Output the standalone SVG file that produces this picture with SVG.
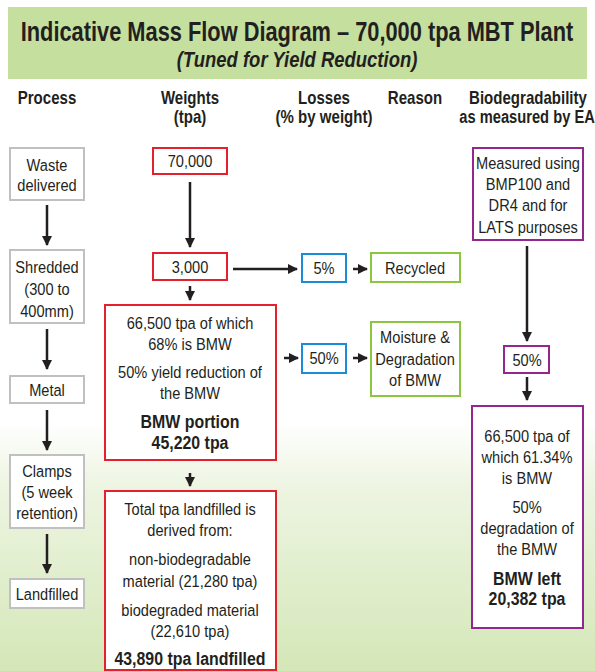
<svg xmlns="http://www.w3.org/2000/svg" width="595" height="671" viewBox="0 0 595 671">
<defs>
<linearGradient id="bg" x1="0" y1="0" x2="0" y2="1">
<stop offset="0" stop-color="#ffffff"/>
<stop offset="0.63" stop-color="#ffffff"/>
<stop offset="0.72" stop-color="#eef5e3"/>
<stop offset="1" stop-color="#d4e7b7"/>
</linearGradient>
<marker id="ah" viewBox="0 0 10 10" refX="9" refY="5" markerWidth="4" markerHeight="4" orient="auto" markerUnits="strokeWidth">
<path d="M0,0 L10,5 L0,10 z" fill="#231f20"/>
</marker>
<style>
text{font-family:"Liberation Sans",Arial,sans-serif;fill:#231f20;text-anchor:middle;font-size:17px}
.b{font-weight:bold;font-size:18.5px}
.h{font-weight:bold;font-size:17.5px}
.box{fill:#ffffff;stroke-width:2}
.g{stroke:#c0c0c0}
.r{stroke:#e3202c}
.bl{stroke:#1a8cd8}
.gr{stroke:#8cc63f}
.p{stroke:#92278f}
.c{stroke:#231f20;stroke-width:2.5;fill:none;marker-end:url(#ah)}
</style>
</defs>
<rect x="0" y="0" width="595" height="671" fill="url(#bg)"/>
<g id="title">
<rect x="8" y="7" width="579" height="72" fill="#c5df9e"/>
<text transform="translate(297,41) scale(0.808,1)" style="font-weight:bold;font-size:27px">Indicative Mass Flow Diagram – 70,000 tpa MBT Plant</text>
<text transform="translate(297,67) scale(0.84,1)" style="font-weight:bold;font-size:22px;font-style:italic">(Tuned for Yield Reduction)</text>
</g>
<g id="headers">
<text transform="translate(47,104) scale(0.86,1)" class="h">Process</text>
<text transform="translate(190,104) scale(0.86,1)" class="h">Weights</text>
<text transform="translate(190,123) scale(0.86,1)" class="h">(tpa)</text>
<text transform="translate(324,104) scale(0.86,1)" class="h">Losses</text>
<text transform="translate(324,123) scale(0.86,1)" class="h">(% by weight)</text>
<text transform="translate(415,104) scale(0.86,1)" class="h">Reason</text>
<text transform="translate(528,104) scale(0.86,1)" class="h">Biodegradability</text>
<text transform="translate(527,123) scale(0.84,1)" class="h">as measured by EA</text>
</g>
<g id="waste">
<rect x="10" y="148" width="74" height="52" class="box g"/>
<text transform="translate(47,171) scale(0.86,1)">Waste</text>
<text transform="translate(47,191) scale(0.86,1)">delivered</text>
</g>
<g id="shredded">
<rect x="10" y="250" width="74" height="73" class="box g"/>
<text transform="translate(47,273) scale(0.86,1)">Shredded</text>
<text transform="translate(47,295) scale(0.86,1)">(300 to</text>
<text transform="translate(47,317) scale(0.86,1)">400mm)</text>
</g>
<g id="metal">
<rect x="10" y="376" width="74" height="27" class="box g"/>
<text transform="translate(47,396) scale(0.86,1)">Metal</text>
</g>
<g id="clamps">
<rect x="10" y="455" width="74" height="73" class="box g"/>
<text transform="translate(47,477) scale(0.86,1)">Clamps</text>
<text transform="translate(47,498) scale(0.86,1)">(5 week</text>
<text transform="translate(47,519) scale(0.86,1)">retention)</text>
</g>
<g id="landfilled">
<rect x="10" y="579" width="74" height="29" class="box g"/>
<text transform="translate(47,600) scale(0.86,1)">Landfilled</text>
</g>
<g id="w70000">
<rect x="153" y="148" width="74" height="26" class="box r"/>
<text transform="translate(190,167) scale(0.86,1)">70,000</text>
</g>
<g id="w3000">
<rect x="153" y="253" width="74" height="27" class="box r"/>
<text transform="translate(190,273) scale(0.86,1)">3,000</text>
</g>
<g id="bmwportion">
<rect x="105" y="305" width="171" height="155" class="box r"/>
<text transform="translate(190,329) scale(0.86,1)">66,500 tpa of which</text>
<text transform="translate(190,350) scale(0.86,1)">68% is BMW</text>
<text transform="translate(190,378) scale(0.86,1)">50% yield reduction of</text>
<text transform="translate(190,399) scale(0.86,1)">the BMW</text>
<text transform="translate(190,428) scale(0.86,1)" class="b">BMW portion</text>
<text transform="translate(190,449) scale(0.86,1)" class="b">45,220 tpa</text>
</g>
<g id="total">
<rect x="105" y="491" width="171" height="179" class="box r"/>
<text transform="translate(190,515) scale(0.86,1)">Total tpa landfilled is</text>
<text transform="translate(190,536) scale(0.86,1)">derived from:</text>
<text transform="translate(190,565) scale(0.86,1)">non-biodegradable</text>
<text transform="translate(190,587) scale(0.86,1)">material (21,280 tpa)</text>
<text transform="translate(190,616) scale(0.86,1)">biodegraded material</text>
<text transform="translate(190,637) scale(0.86,1)">(22,610 tpa)</text>
<text transform="translate(190,665) scale(0.86,1)" class="b">43,890 tpa landfilled</text>
</g>
<g id="loss5">
<rect x="302" y="254" width="44" height="28" class="box bl"/>
<text transform="translate(324,274) scale(0.86,1)">5%</text>
</g>
<g id="loss50">
<rect x="302" y="344" width="44" height="29" class="box bl"/>
<text transform="translate(324,364) scale(0.86,1)">50%</text>
</g>
<g id="recycled">
<rect x="371" y="253" width="89" height="29" class="box gr"/>
<text transform="translate(415,274) scale(0.86,1)">Recycled</text>
</g>
<g id="moisture">
<rect x="371" y="322" width="89" height="74" class="box gr"/>
<text transform="translate(415,343) scale(0.86,1)">Moisture &amp;</text>
<text transform="translate(415,365) scale(0.86,1)">Degradation</text>
<text transform="translate(415,386) scale(0.86,1)">of BMW</text>
</g>
<g id="measured">
<rect x="473" y="148" width="110" height="92" class="box p"/>
<text transform="translate(528,169) scale(0.86,1)">Measured using</text>
<text transform="translate(528,190) scale(0.86,1)">BMP100 and</text>
<text transform="translate(528,211) scale(0.86,1)">DR4 and for</text>
<text transform="translate(528,233) scale(0.86,1)">LATS purposes</text>
</g>
<g id="bio50">
<rect x="504" y="346" width="45" height="27" class="box p"/>
<text transform="translate(527,366) scale(0.86,1)">50%</text>
</g>
<g id="bmwleft">
<rect x="472" y="406" width="111" height="222" class="box p"/>
<text transform="translate(527,442) scale(0.86,1)">66,500 tpa of</text>
<text transform="translate(527,463) scale(0.86,1)">which 61.34%</text>
<text transform="translate(527,484) scale(0.86,1)">is BMW</text>
<text transform="translate(527,513) scale(0.86,1)">50%</text>
<text transform="translate(527,534) scale(0.86,1)">degradation of</text>
<text transform="translate(527,555) scale(0.86,1)">the BMW</text>
<text transform="translate(527,585) scale(0.86,1)" class="b">BMW left</text>
<text transform="translate(527,605) scale(0.86,1)" class="b">20,382 tpa</text>
</g>
<g id="connectors">
<line x1="47" y1="205" x2="47" y2="245" class="c"/>
<line x1="47" y1="329" x2="47" y2="369" class="c"/>
<line x1="47" y1="410" x2="47" y2="450" class="c"/>
<line x1="47" y1="534" x2="47" y2="573" class="c"/>
<line x1="190" y1="182" x2="190" y2="247" class="c"/>
<line x1="190" y1="286" x2="190" y2="300" class="c"/>
<line x1="190" y1="473" x2="190" y2="486" class="c"/>
<line x1="233" y1="269" x2="297" y2="269" class="c"/>
<line x1="353" y1="269" x2="367" y2="269" class="c"/>
<line x1="284" y1="358" x2="298" y2="358" class="c"/>
<line x1="353" y1="358" x2="367" y2="358" class="c"/>
<line x1="527" y1="246" x2="527" y2="341" class="c"/>
<line x1="527" y1="377" x2="527" y2="400" class="c"/>
</g>
</svg>
